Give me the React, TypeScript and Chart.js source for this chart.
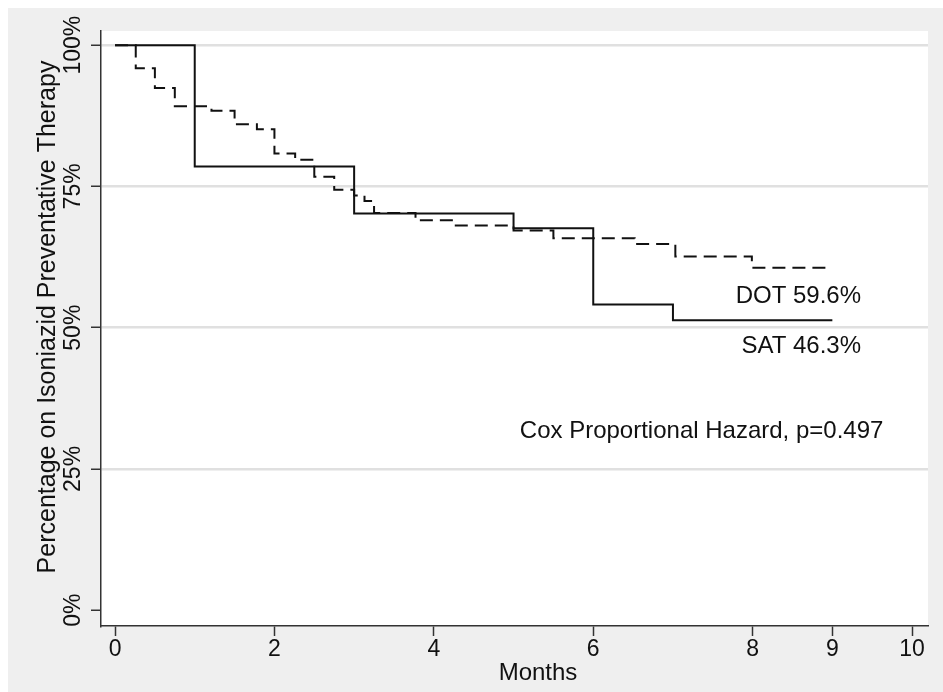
import React, { useEffect, useRef } from 'react';
import { Chart, registerables } from 'chart.js';

Chart.register(...registerables);

// Kaplan-Meier steps
const satMonths = [0, 1, 3, 5, 6, 7, 9];
const satPct = [100, 78.5, 70.2, 67.6, 54.1, 51.3, 51.3];

const dotMonths = [0, 0.26, 0.5, 0.75, 1.21, 1.5, 1.78, 2.0, 2.26, 2.5, 2.75, 3.0, 3.13, 3.25, 3.77, 4.25, 5.0, 5.5, 6.52, 7.03, 7.99, 8.99];
const dotPct = [100, 95.9, 92.4, 89.2, 88.4, 86.0, 85.1, 80.8, 79.7, 76.7, 74.4, 73.4, 72.4, 70.3, 69.0, 68.1, 67.2, 65.8, 64.8, 62.6, 60.6, 60.6];

const xTickValues = [0, 2, 4, 6, 8, 9, 10];
const yTickValues = [0, 25, 50, 75, 100];

const xTitle = 'Months';
const yTitle = 'Percentage on Isoniazid Preventative Therapy';
const dotLabel = 'DOT 59.6%';
const satLabel = 'SAT 46.3%';
const coxLabel = 'Cox Proportional Hazard, p=0.497';

const FONT = '"Liberation Sans", Arial, Helvetica, sans-serif';
const INK = '#111111';

const decorPlugin = {
  id: 'decor',
  beforeDraw(chart: any) {
    const { ctx, width, height, chartArea } = chart;
    ctx.save();
    ctx.fillStyle = '#efefef';
    ctx.fillRect(0, 0, width, height);
    ctx.fillStyle = '#ffffff';
    ctx.fillRect(chartArea.left, chartArea.top, chartArea.right - chartArea.left, chartArea.bottom - chartArea.top);
    ctx.restore();
  },
  afterDraw(chart: any) {
    const { ctx } = chart;
    const xs = chart.scales.x;
    const ys = chart.scales.y;
    ctx.save();
    ctx.fillStyle = INK;

    // y tick labels, rotated
    ctx.font = `23px ${FONT}`;
    ctx.textAlign = 'center';
    ctx.textBaseline = 'alphabetic';
    for (const v of yTickValues) {
      const py = ys.getPixelForValue(v);
      ctx.save();
      ctx.translate(72, py);
      ctx.rotate(-Math.PI / 2);
      ctx.fillText(`${v}%`, 0, 0);
      ctx.restore();
    }

    // y title
    ctx.font = `25px ${FONT}`;
    ctx.save();
    ctx.translate(47, 309);
    ctx.rotate(-Math.PI / 2);
    ctx.textAlign = 'center';
    ctx.fillText(yTitle, 0, 0);
    ctx.restore();

    // x title
    ctx.font = `24px ${FONT}`;
    ctx.textAlign = 'center';
    ctx.fillText(xTitle, 530, 672);

    // annotations
    ctx.textAlign = 'right';
    ctx.fillText(dotLabel, xs.getPixelForValue(9.36), ys.getPixelForValue(54.4));
    ctx.fillText(satLabel, xs.getPixelForValue(9.36), ys.getPixelForValue(45.6));
    ctx.fillText(coxLabel, xs.getPixelForValue(9.64), ys.getPixelForValue(30.4));
    ctx.restore();
  },
};

export default function App() {
  const ref = useRef<HTMLCanvasElement | null>(null);

  useEffect(() => {
    if (!ref.current) return;
    const chart = new Chart(ref.current, {
      type: 'line',
      data: {
        datasets: [
          {
            label: 'SAT',
            data: satMonths.map((m, i) => ({ x: m, y: satPct[i] })),
            borderColor: INK,
            borderWidth: 2,
            pointRadius: 0,
            stepped: true,
            fill: false,
          },
          {
            label: 'DOT',
            data: dotMonths.map((m, i) => ({ x: m, y: dotPct[i] })),
            borderColor: INK,
            borderWidth: 2,
            borderDash: [13, 7],
            pointRadius: 0,
            stepped: true,
            fill: false,
          },
        ],
      },
      options: {
        animation: false,
        responsive: false,
        maintainAspectRatio: false,
        layout: { padding: { left: 0, top: 23, right: 15, bottom: 0 } },
        plugins: {
          legend: { display: false },
          tooltip: { enabled: false },
          title: { display: false },
        },
        scales: {
          x: {
            type: 'linear',
            min: -0.176,
            max: 10.2,
            afterBuildTicks: (scale: any) => {
              scale.ticks = xTickValues.map((v) => ({ value: v }));
            },
            afterFit: (scale: any) => {
              scale.height = 66;
            },
            grid: {
              drawOnChartArea: false,
              drawTicks: true,
              tickLength: 10,
              tickColor: '#333333',
              tickWidth: 1.5,
            },
            border: { display: true, color: '#333333', width: 1.5 },
            ticks: {
              color: INK,
              font: { family: FONT, size: 23 },
              padding: 0,
              maxRotation: 0,
              minRotation: 0,
              autoSkip: false,
              callback: (v: any) => String(v),
            },
          },
          y: {
            type: 'linear',
            min: -2.8,
            max: 102.5,
            afterBuildTicks: (scale: any) => {
              scale.ticks = yTickValues.map((v) => ({ value: v }));
            },
            afterFit: (scale: any) => {
              scale.width = 93;
            },
            grid: {
              drawOnChartArea: true,
              drawTicks: true,
              tickLength: 10,
              lineWidth: 2.5,
              color: (c: any) => (c.tick && c.tick.value === 0 ? 'rgba(0,0,0,0)' : '#e0e0e0'),
              tickColor: '#333333',
              tickWidth: 1.5,
            },
            border: { display: true, color: '#333333', width: 1.5 },
            ticks: { display: false },
          },
        },
      },
      plugins: [decorPlugin],
    });
    return () => chart.destroy();
  }, []);

  return (
    <div style={{ position: 'fixed', left: 8, top: 8, width: 935, height: 684 }}>
      <canvas ref={ref} width={935} height={684} style={{ display: 'block' }} />
    </div>
  );
}
